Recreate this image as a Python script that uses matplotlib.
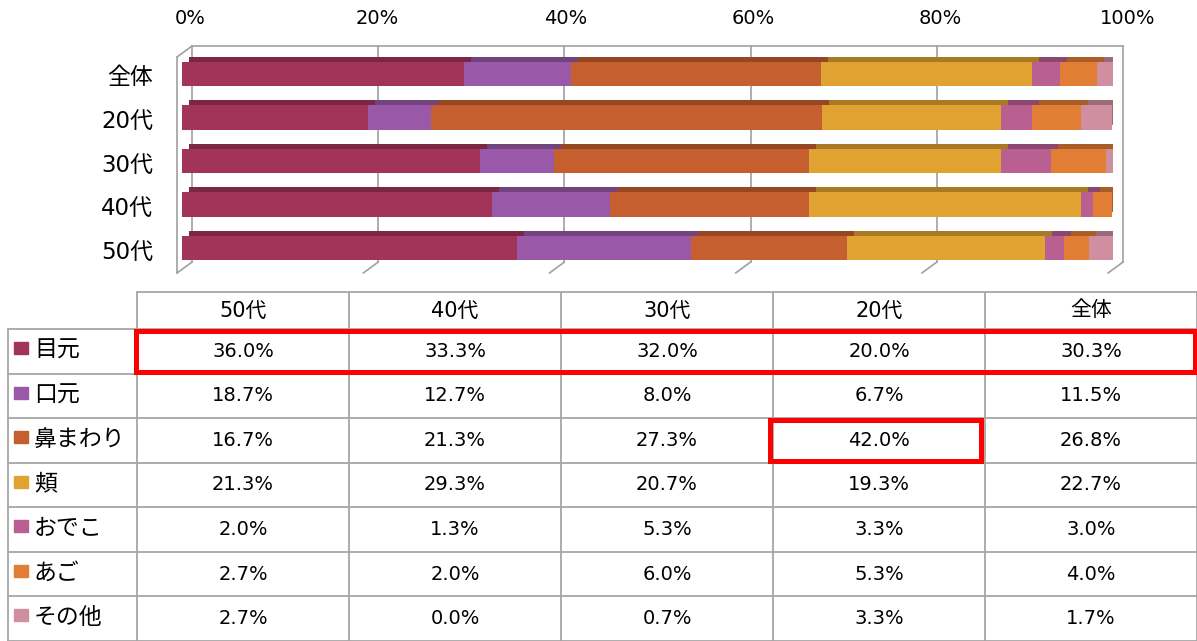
"""
Stacked 3D-style bar chart of face areas by age group, with a data table below
"""

import matplotlib
matplotlib.use('Agg')
import matplotlib.pyplot as plt
import matplotlib.transforms as mtransforms
from matplotlib.patches import Rectangle, ConnectionPatch
import numpy as np

plt.rcParams['font.family'] = ['DejaVu Sans', 'Noto Sans CJK JP']

# data (table column order)
groups = ['50代', '40代', '30代', '20代', '全体']
parts = ['目元', '口元', '鼻まわり', '頬', 'おでこ', 'あご', 'その他']
me = [36.0, 33.3, 32.0, 20.0, 30.3]
kuchi = [18.7, 12.7, 8.0, 6.7, 11.5]
hana = [16.7, 21.3, 27.3, 42.0, 26.8]
hoho = [21.3, 29.3, 20.7, 19.3, 22.7]
odeko = [2.0, 1.3, 5.3, 3.3, 3.0]
ago = [2.7, 2.0, 6.0, 5.3, 4.0]
sonota = [2.7, 0.0, 0.7, 3.3, 1.7]
xticks = [0, 20, 40, 60, 80, 100]
# highlighted cells: (row, column), column None = whole row
highlights = [(0, None), (2, 3)]

series = [me, kuchi, hana, hoho, odeko, ago, sonota]
colors = ['#a23459', '#9a59a8', '#c65f30', '#e0a231', '#b95f92', '#e17d35', '#d08fa0']


def shade(c, f=0.75):
    rgb = np.array(matplotlib.colors.to_rgb(c))
    return tuple(rgb * f)


W, H = 1197, 641
fig = plt.figure(figsize=(W / 100, H / 100), dpi=100)

# --- bar chart ---
ax = fig.add_axes([182 / W, 1 - 270 / H, 931 / W, 218 / H])
ax.set_xlim(0, 100)
ax.set_ylim(4.5, -0.5)
for s in ax.spines.values():
    s.set_visible(False)
ax.set_xticks([])
ax.set_yticks([])

bar_groups = groups[::-1]
ypos = np.arange(len(bar_groups))
depth = mtransforms.offset_copy(ax.transData, fig=fig, x=7, y=5, units='dots')
left = np.zeros(len(bar_groups))
for vals, c in zip(series, colors):
    v = np.array(vals[::-1])
    ax.barh(ypos, v, left=left, height=0.56, color=shade(c), transform=depth, zorder=2)
    ax.barh(ypos, v, left=left, height=0.56, color=c, zorder=3)
    left += v

# category labels on the left
ylab_tr = mtransforms.offset_copy(ax.get_yaxis_transform(), fig=fig, x=-29, y=-4, units='dots')
for y, g in zip(ypos, bar_groups):
    ax.text(0, y, g, transform=ylab_tr, ha='right', va='center', fontsize=16.5)

# walls and gridlines
xa = ax.get_xaxis_transform()
front = mtransforms.offset_copy(xa, fig=fig, x=-5, y=0, units='dots')
back = mtransforms.offset_copy(xa, fig=fig, x=10, y=11, units='dots')
ybot, ytop = -0.014, 0.977
gc = '#a0a0a0'
for t in xticks:
    ax.plot([t, t], [ybot, ytop], transform=back, color=gc, lw=1.2, zorder=0, clip_on=False)
    fig.add_artist(ConnectionPatch((t, ybot), (t, ybot), coordsA=front, coordsB=back,
                                   color=gc, lw=1.2))
ax.plot([0, 100], [ytop, ytop], transform=back, color=gc, lw=1.2, zorder=0, clip_on=False)
ax.plot([0, 0], [ybot, ytop], transform=front, color=gc, lw=1.2, zorder=0, clip_on=False)
fig.add_artist(ConnectionPatch((0, ytop), (0, ytop), coordsA=front, coordsB=back, color=gc, lw=1.2))

# percent labels along the top of the back wall
for t in xticks:
    tr = mtransforms.offset_copy(xa, fig=fig, x=8 + 0.07 * t, y=0, units='dots')
    ax.text(t, 1.152, '{}%'.format(t), transform=tr, ha='center', va='center', fontsize=14)

# --- data table ---
tax = fig.add_axes([0, 0, 1, 349 / H])
tax.set_xlim(0, W)
tax.set_ylim(349, 0)
tax.axis('off')

lab_x0, x0, colw = 8, 137, 212
head_h = 37
rowh = (349 - head_h) / len(parts)
lc = '#a6a6a6'

tax.plot([x0, W], [0, 0], color=lc, lw=1.3, clip_on=False)
for k in range(len(parts) + 1):
    y = head_h + k * rowh
    tax.plot([lab_x0, W], [y, y], color=lc, lw=1.3, clip_on=False)
tax.plot([lab_x0, lab_x0], [head_h, 349], color=lc, lw=1.3, clip_on=False)
for j in range(len(groups) + 1):
    x = x0 + j * colw
    tax.plot([x, x], [0, 349], color=lc, lw=1.3, clip_on=False)

for j, g in enumerate(groups):
    tax.text(x0 + (j + 0.5) * colw, head_h / 2, g, ha='center', va='center', fontsize=15)

for i, (p, vals, c) in enumerate(zip(parts, series, colors)):
    yt = head_h + i * rowh
    tax.add_patch(Rectangle((14, yt + 13), 14, 12, color=c))
    tax.text(34, yt + rowh / 2 - 1, p, ha='left', va='center', fontsize=16.5)
    for j, v in enumerate(vals):
        tax.text(x0 + (j + 0.5) * colw, yt + rowh / 2, '{:.1f}%'.format(v),
                 ha='center', va='center', fontsize=14)

for r, cidx in highlights:
    yt = head_h + r * rowh
    if cidx is None:
        xl, xr = x0 - 1.5, W - 2.5
    else:
        xl, xr = x0 + cidx * colw - 3, x0 + (cidx + 1) * colw - 4
    tax.add_patch(Rectangle((xl, yt + 2), xr - xl, rowh - 4, fill=False,
                            edgecolor='#ff0000', lw=3.6, zorder=5, clip_on=False))

fig.savefig('out.png', dpi=100)
